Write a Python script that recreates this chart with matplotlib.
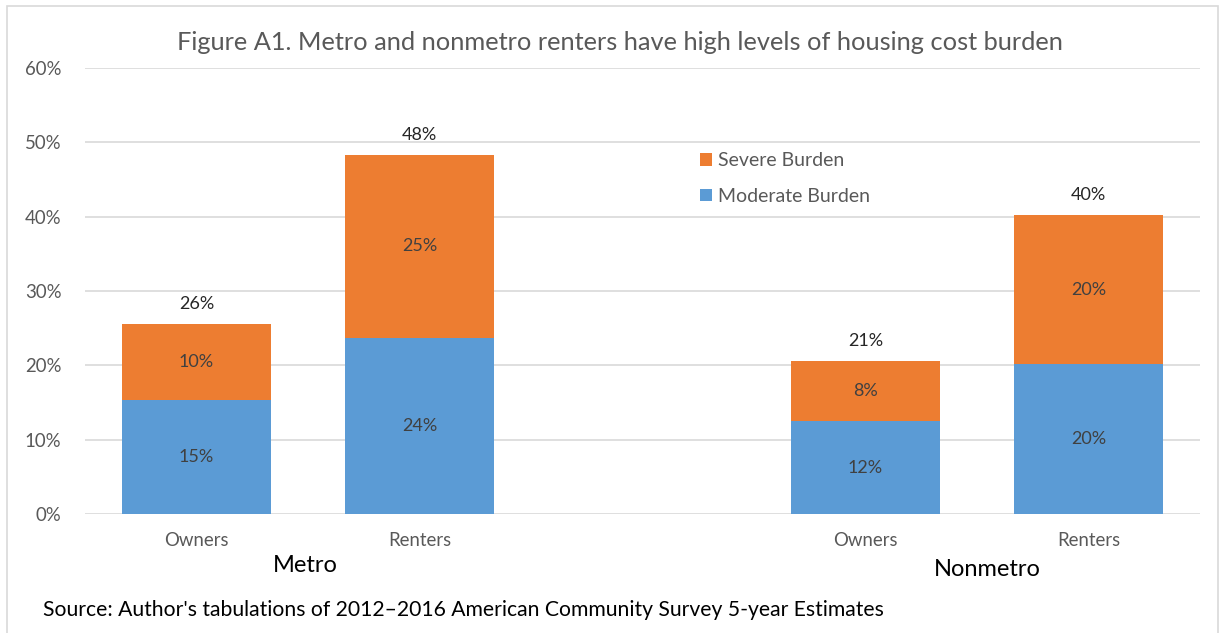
import matplotlib.pyplot as plt
from matplotlib.patches import Rectangle

plt.rcParams['font.family'] = ['Lato', 'DejaVu Sans']

# Data (shares of households, percent)
categories = ["Owners", "Renters", "Owners", "Renters"]
groups = ["Metro", "Nonmetro"]
moderate = [15.3, 23.7, 12.5, 20.2]
severe = [10.2, 24.6, 8.1, 20.0]
moderate_labels = ["15%", "24%", "12%", "20%"]
severe_labels = ["10%", "25%", "8%", "20%"]
total_labels = ["26%", "48%", "21%", "40%"]

blue = "#5B9BD5"
orange = "#ED7D31"
gray = "#595959"

fig = plt.figure(figsize=(12.25, 6.33), dpi=100)
ax = fig.add_axes([85 / 1225, 1 - 514 / 633, 1115 / 1225, 446 / 633])

x = [0, 1, 3, 4]
b1 = ax.bar(x, moderate, width=0.67, color=blue, label="Moderate Burden", zorder=2)
b2 = ax.bar(x, severe, width=0.67, bottom=moderate, color=orange, label="Severe Burden", zorder=2)

for i in range(len(x)):
    ax.text(x[i], moderate[i] / 2, moderate_labels[i], ha="center", va="center",
            fontsize=13, color="#404040")
    ax.text(x[i], moderate[i] + severe[i] / 2, severe_labels[i], ha="center", va="center",
            fontsize=13, color="#404040")
    ax.text(x[i], moderate[i] + severe[i] + 2.7, total_labels[i], ha="center", va="center",
            fontsize=13, color="#262626")

ax.set_xlim(-0.5, 4.5)
ax.set_ylim(0, 60)
ax.set_yticks(range(0, 61, 10))
ax.set_yticklabels([f"{v}%" for v in range(0, 61, 10)], fontsize=13.4, color=gray)
ax.set_xticks(x)
ax.set_xticklabels(categories, fontsize=13.4, color=gray)
ax.tick_params(length=0, pad=13)
ax.tick_params(axis="y", pad=17)
ax.grid(axis="y", color="#D9D9D9", linewidth=1.2, zorder=0)
for s in ax.spines.values():
    s.set_visible(False)

ax.legend([b2, b1], ["Severe Burden", "Moderate Burden"], loc="upper left",
          bbox_to_anchor=(0.536, 0.85), frameon=False, fontsize=14, labelcolor=gray,
          handlelength=0.6, handleheight=0.6, handletextpad=0.3, labelspacing=0.95)

fig.text(620 / 1225, 1 - 43 / 633, "Figure A1. Metro and nonmetro renters have high levels of housing cost burden",
         ha="center", va="center", fontsize=18.3, color=gray)
fig.text(305 / 1225, 1 - 566 / 633, groups[0], ha="center", va="center", fontsize=17, color="black")
fig.text(987 / 1225, 1 - 570 / 633, groups[1], ha="center", va="center", fontsize=17, color="black")
fig.text(43 / 1225, 1 - 610 / 633,
         "Source: Author's tabulations of 2012\u20132016 American Community Survey 5-year Estimates",
         ha="left", va="center", fontsize=15.2, color="black")

fig.patches.append(Rectangle((7 / 1225, -0.01), 1211 / 1225, 1 - 6 / 633 + 0.01,
                             transform=fig.transFigure, fill=False, edgecolor="#D9D9D9", linewidth=1.2))

fig.savefig("out.png", dpi=100)
